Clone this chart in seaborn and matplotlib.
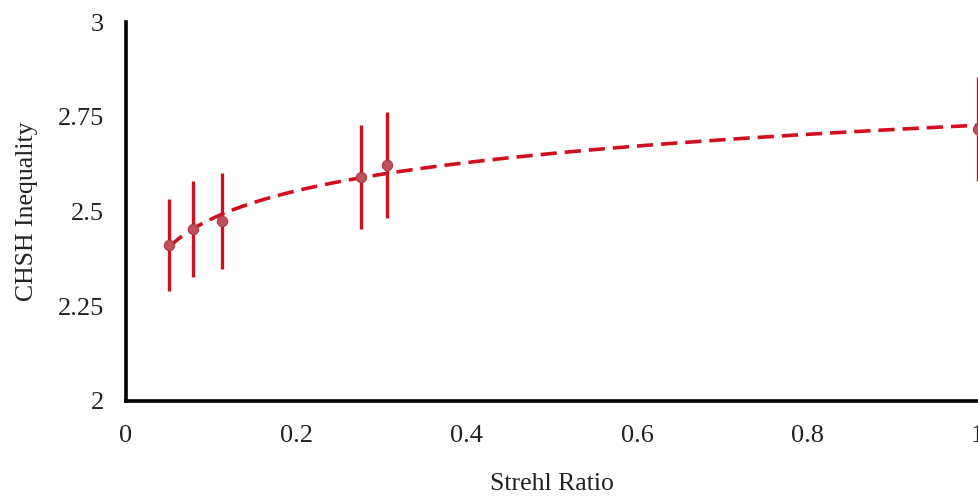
import numpy as np
import pandas as pd
import matplotlib
matplotlib.use("Agg")
import matplotlib.pyplot as plt
import seaborn as sns

strehl = [0.051, 0.079, 0.113, 0.276, 0.307, 1.0]
chsh = [2.412, 2.454, 2.475, 2.591, 2.623, 2.718]
err = [0.121, 0.127, 0.127, 0.136, 0.139, 0.137]
yticks = [2, 2.25, 2.5, 2.75, 3]
ytick_labels = ["2", "2.25", "2.5", "2.75", "3"]
xticks = [0, 0.2, 0.4, 0.6, 0.8, 1]
xtick_labels = ["0", "0.2", "0.4", "0.6", "0.8", "1"]

df = pd.DataFrame({"Strehl Ratio": strehl, "CHSH Inequality": chsh, "err": err})

sns.set_style("white")
plt.rcParams["font.family"] = ["Liberation Serif", "DejaVu Serif"]

fig = plt.figure(figsize=(9.79, 4.98), dpi=100)
ax = fig.add_axes([0.1287, 0.1948, 0.870, 0.761])

sns.regplot(data=df, x="Strehl Ratio", y="CHSH Inequality", logx=True, ci=None,
            scatter=False, truncate=True, ax=ax,
            line_kws=dict(color="#d0101e", lw=2.6, ls=(0, (4.5, 2.2))))
ax.errorbar(df["Strehl Ratio"], df["CHSH Inequality"], yerr=df["err"], fmt="none",
            ecolor="#d0101e", elinewidth=2.4, capsize=0, clip_on=False, zorder=3)
sns.scatterplot(data=df, x="Strehl Ratio", y="CHSH Inequality", ax=ax, s=55,
                color="#c0505a", edgecolor="#b03848", linewidth=0.8, zorder=4,
                clip_on=False)

ax.set_xlim(0, 1.0)
ax.set_ylim(2, 3)
ax.set_yticks(yticks)
ax.set_yticklabels(ytick_labels)
ax.set_xticks(xticks)
ax.set_xticklabels(xtick_labels)
ax.tick_params(axis="both", length=0, labelsize=19, colors="#222222")
ax.tick_params(axis="x", pad=17)
ax.tick_params(axis="y", pad=16)
for s in ["top", "right"]:
    ax.spines[s].set_visible(False)
for s in ["left", "bottom"]:
    ax.spines[s].set_color("black")
    ax.spines[s].set_linewidth(2.6)
ax.set_xlabel("Strehl Ratio", fontsize=18.5, color="#222222")
ax.set_ylabel("CHSH Inequality", fontsize=18.5, color="#222222")
ax.xaxis.set_label_coords(0.5, -0.19)
ax.yaxis.set_label_coords(-0.103, 0.5)

fig.savefig("out.png", dpi=100, facecolor="white")
